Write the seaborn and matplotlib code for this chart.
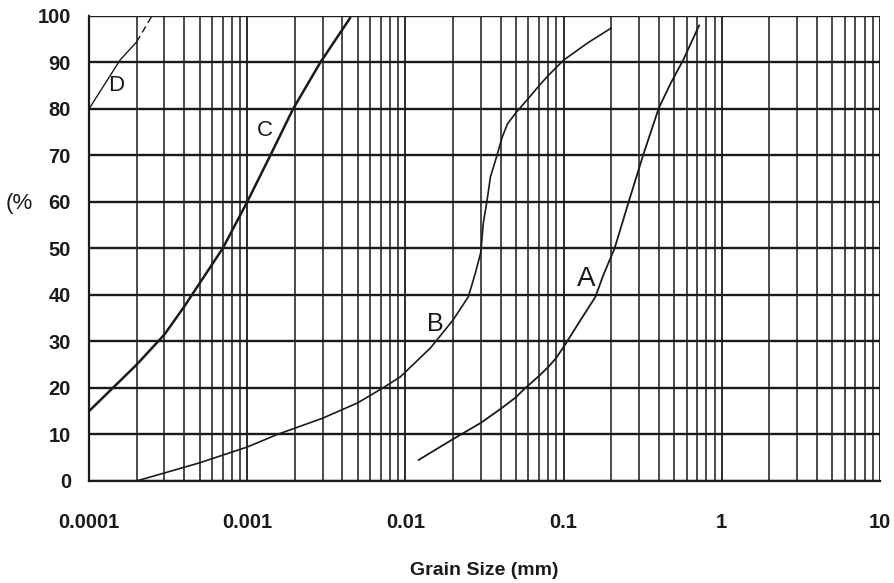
import matplotlib
matplotlib.use("Agg")
import matplotlib.pyplot as plt
import numpy as np
import pandas as pd
import seaborn as sns
from matplotlib.ticker import LogLocator, FixedLocator, FixedFormatter, NullFormatter

# --------------------------------------------------------------------------
# Grading curves (grain size in mm, % passing)
# --------------------------------------------------------------------------
a_size = [0.0121, 0.02, 0.03, 0.04, 0.05, 0.0557, 0.07, 0.08, 0.09, 0.10,
          0.128, 0.159, 0.178, 0.21, 0.26, 0.32, 0.40, 0.475, 0.57, 0.72]
a_pass = [4.5, 9.0, 12.5, 15.5, 18.0, 19.6, 22.6, 24.5, 26.5, 28.8,
          34.6, 39.6, 44.2, 50.0, 60.4, 70.3, 80.2, 85.5, 90.5, 98.0]

b_size = [0.0002, 0.0005, 0.001, 0.00155, 0.003, 0.005, 0.0072, 0.0093, 0.0144,
          0.02, 0.025, 0.0277, 0.03, 0.0311, 0.0328, 0.0345, 0.038, 0.041,
          0.0442, 0.05, 0.06, 0.07, 0.08, 0.10, 0.142, 0.20]
b_pass = [0.0, 3.9, 7.3, 10.0, 13.5, 16.8, 20.0, 22.4, 28.6,
          34.6, 39.6, 44.7, 49.2, 55.5, 60.2, 65.4, 70.1, 74.0,
          76.8, 79.2, 82.3, 85.0, 87.2, 90.5, 94.2, 97.4]

c_size = [0.0001, 0.0002, 0.0003, 0.0004, 0.0005, 0.0007, 0.001, 0.0014,
          0.00195, 0.0029, 0.00448]
c_pass = [15.0, 25.0, 31.5, 37.5, 42.5, 50.0, 60.0, 70.0, 80.0, 90.0, 99.6]

d_size = [0.0001, 0.000157, 0.0002]
d_pass = [80.0, 90.5, 94.4]
d_dash_size = [0.0002, 0.00025]
d_dash_pass = [94.4, 100.0]

curve_labels = ["A", "B", "C", "D"]
label_size = [0.1397, 0.0155, 0.00129, 0.000148]
label_pass = [43.4, 33.8, 75.3, 85.0]
label_font = [20, 18, 16, 16]

y_ticks = list(range(0, 101, 10))
x_ticks = [0.0001, 0.001, 0.01, 0.1, 1, 10]
x_tick_labels = ["0.0001", "0.001", "0.01", "0.1", "1", "10"]

# --------------------------------------------------------------------------
sns.set_style("white")
plt.rcParams["font.family"] = ["Liberation Sans", "DejaVu Sans"]

fig = plt.figure(figsize=(8.95, 5.83), dpi=100)
ax = fig.add_axes([0.0994, 0.175, 0.8838, 0.7976])

ink = "#1a1a1a"
df_a = pd.DataFrame({"size": a_size, "pass": a_pass})
df_b = pd.DataFrame({"size": b_size, "pass": b_pass})
df_c = pd.DataFrame({"size": c_size, "pass": c_pass})
df_d = pd.DataFrame({"size": d_size, "pass": d_pass})
df_dd = pd.DataFrame({"size": d_dash_size, "pass": d_dash_pass})

sns.lineplot(data=df_a, x="size", y="pass", ax=ax, color=ink, lw=1.3, sort=False)
sns.lineplot(data=df_b, x="size", y="pass", ax=ax, color=ink, lw=1.2, sort=False)
sns.lineplot(data=df_c, x="size", y="pass", ax=ax, color=ink, lw=1.8, sort=False)
sns.lineplot(data=df_d, x="size", y="pass", ax=ax, color=ink, lw=1.0, sort=False)
sns.lineplot(data=df_dd, x="size", y="pass", ax=ax, color=ink, lw=1.0,
             linestyle=(0, (5, 3)), sort=False)

for lab, xs, ys, fs in zip(curve_labels, label_size, label_pass, label_font):
    ax.text(xs, ys, lab, fontsize=fs, color=ink, ha="center", va="center")

ax.set_xscale("log")
ax.set_xlim(0.0001, 10)
ax.set_ylim(0, 100)

# paper-style log grid
ax.xaxis.set_major_locator(FixedLocator(x_ticks))
ax.xaxis.set_major_formatter(FixedFormatter(x_tick_labels))
ax.xaxis.set_minor_locator(LogLocator(base=10, subs=np.arange(2, 10)))
ax.xaxis.set_minor_formatter(NullFormatter())
ax.set_yticks(y_ticks)
ax.grid(which="major", axis="x", color=ink, lw=1.3)
ax.grid(which="minor", axis="x", color=ink, lw=1.1)
ax.grid(which="major", axis="y", color=ink, lw=1.7)

for side in ["top", "right"]:
    ax.spines[side].set_visible(False)
for side in ["left", "bottom"]:
    ax.spines[side].set_color(ink)
    ax.spines[side].set_linewidth(1.6)

ax.tick_params(axis="both", which="major", direction="out", length=5, width=1.2,
               color=ink, labelcolor=ink)
ax.tick_params(axis="x", which="minor", length=0)
ax.tick_params(axis="y", labelsize=14.5, pad=8)
ax.tick_params(axis="x", labelsize=14.5, pad=18)
for t in ax.get_yticklabels() + ax.get_xticklabels():
    t.set_fontweight("bold")

ax.set_ylabel("")
ax.set_xlabel("Grain Size (mm)", fontsize=14, fontweight="bold", color=ink, labelpad=22)
fig.text(0.006, (583 - 204) / 583, "(%", fontsize=16, color=ink, va="center", ha="left")

fig.savefig("out.png", dpi=100)
